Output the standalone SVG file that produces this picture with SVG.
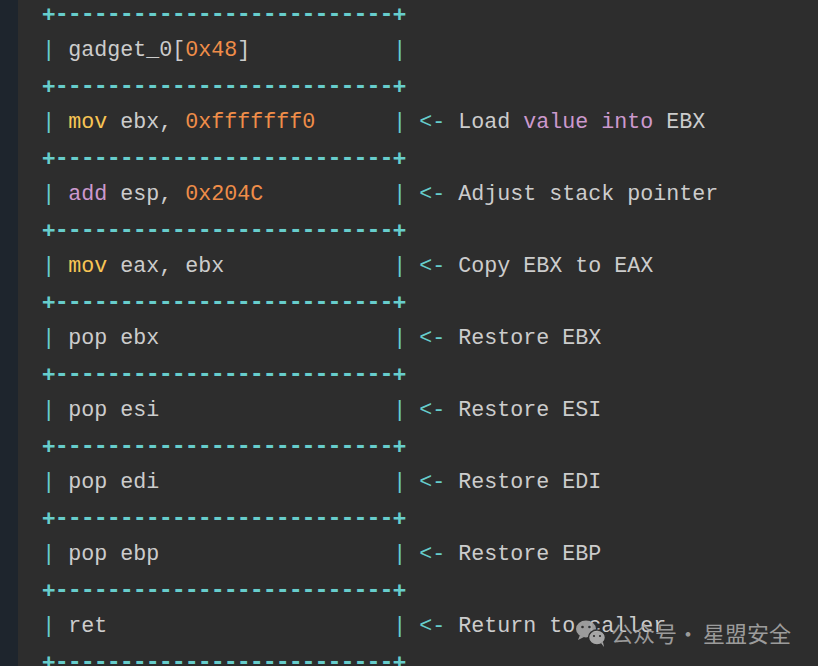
<svg xmlns="http://www.w3.org/2000/svg" width="818" height="666" viewBox="0 0 818 666">
<style>
text{font-family:"Liberation Mono","DejaVu Sans Mono",monospace;font-size:21.667px;fill:#cccccc;white-space:pre}
.c{fill:#67cdcc}
.b{font-family:"DejaVu Sans Mono","Liberation Mono",monospace;font-size:21.59px;font-weight:bold}
.o{fill:#f08d49}
.y{fill:#f8c555}
.p{fill:#cc99cd}
.wm{font-family:"Noto Sans CJK SC","Noto Sans",sans-serif;font-size:22px;fill:#a8a8a8}
</style>
<rect width="818" height="666" fill="#2d2d2d"/>
<rect width="18" height="666" fill="#1e252d"/>
<g id="borders">
<text class="c b" x="42.3" y="21">+--------------------------+</text>
<text class="c b" x="42.3" y="93">+--------------------------+</text>
<text class="c b" x="42.3" y="165">+--------------------------+</text>
<text class="c b" x="42.3" y="237">+--------------------------+</text>
<text class="c b" x="42.3" y="309">+--------------------------+</text>
<text class="c b" x="42.3" y="381">+--------------------------+</text>
<text class="c b" x="42.3" y="453">+--------------------------+</text>
<text class="c b" x="42.3" y="525">+--------------------------+</text>
<text class="c b" x="42.3" y="597">+--------------------------+</text>
<text class="c b" x="42.3" y="669">+--------------------------+</text>
</g>
<g id="row0">
<text class="c" x="42.3" y="56">|</text>
<text x="68.3" y="56">gadget_0[</text><text class="o" x="185.3" y="56">0x48</text><text x="237.3" y="56">]</text>
<text class="c" x="393.3" y="56">|</text>
</g>
<g id="row1">
<text class="c" x="42.3" y="128">|</text>
<text class="y" x="68.3" y="128">mov</text><text x="120.3" y="128">ebx,</text><text class="o" x="185.3" y="128">0xfffffff0</text>
<text class="c" x="393.3" y="128">|</text>
<text class="c" x="419.3" y="128">&lt;-</text>
<text x="458.3" y="128">Load</text><text class="p" x="523.3" y="128">value into</text><text x="666.3" y="128">EBX</text>
</g>
<g id="row2">
<text class="c" x="42.3" y="200">|</text>
<text class="p" x="68.3" y="200">add</text><text x="120.3" y="200">esp,</text><text class="o" x="185.3" y="200">0x204C</text>
<text class="c" x="393.3" y="200">|</text>
<text class="c" x="419.3" y="200">&lt;-</text>
<text x="458.3" y="200">Adjust stack pointer</text>
</g>
<g id="row3">
<text class="c" x="42.3" y="272">|</text>
<text class="y" x="68.3" y="272">mov</text><text x="120.3" y="272">eax, ebx</text>
<text class="c" x="393.3" y="272">|</text>
<text class="c" x="419.3" y="272">&lt;-</text>
<text x="458.3" y="272">Copy EBX to EAX</text>
</g>
<g id="row4">
<text class="c" x="42.3" y="344">|</text>
<text x="68.3" y="344">pop ebx</text>
<text class="c" x="393.3" y="344">|</text>
<text class="c" x="419.3" y="344">&lt;-</text>
<text x="458.3" y="344">Restore EBX</text>
</g>
<g id="row5">
<text class="c" x="42.3" y="416">|</text>
<text x="68.3" y="416">pop esi</text>
<text class="c" x="393.3" y="416">|</text>
<text class="c" x="419.3" y="416">&lt;-</text>
<text x="458.3" y="416">Restore ESI</text>
</g>
<g id="row6">
<text class="c" x="42.3" y="488">|</text>
<text x="68.3" y="488">pop edi</text>
<text class="c" x="393.3" y="488">|</text>
<text class="c" x="419.3" y="488">&lt;-</text>
<text x="458.3" y="488">Restore EDI</text>
</g>
<g id="row7">
<text class="c" x="42.3" y="560">|</text>
<text x="68.3" y="560">pop ebp</text>
<text class="c" x="393.3" y="560">|</text>
<text class="c" x="419.3" y="560">&lt;-</text>
<text x="458.3" y="560">Restore EBP</text>
</g>
<g id="row8">
<text class="c" x="42.3" y="632">|</text>
<text x="68.3" y="632">ret</text>
<text class="c" x="393.3" y="632">|</text>
<text class="c" x="419.3" y="632">&lt;-</text>
<text x="458.3" y="632">Return to caller</text>
</g>
<g id="watermark" opacity="0.9">
<ellipse cx="586" cy="629" rx="10" ry="8.5" fill="#a8a8a8"/>
<path d="M580 635 l-2 5 l6 -3 z" fill="#a8a8a8"/>
<ellipse cx="597" cy="637.5" rx="8.5" ry="7.5" fill="#b4b4b4" stroke="#2d2d2d" stroke-width="1.5"/>
<path d="M601 643 l3 4 l-1 -5 z" fill="#b4b4b4"/>
<circle cx="582.5" cy="627" r="1.3" fill="#2d2d2d"/>
<circle cx="589.5" cy="627" r="1.3" fill="#2d2d2d"/>
<circle cx="594" cy="636" r="1.1" fill="#2d2d2d"/>
<circle cx="600" cy="636" r="1.1" fill="#2d2d2d"/>
<text class="wm" x="611" y="642">公众号</text>
<text class="wm" x="677" y="642">·</text>
<text class="wm" x="703" y="642">星盟安全</text>
</g>
</svg>
